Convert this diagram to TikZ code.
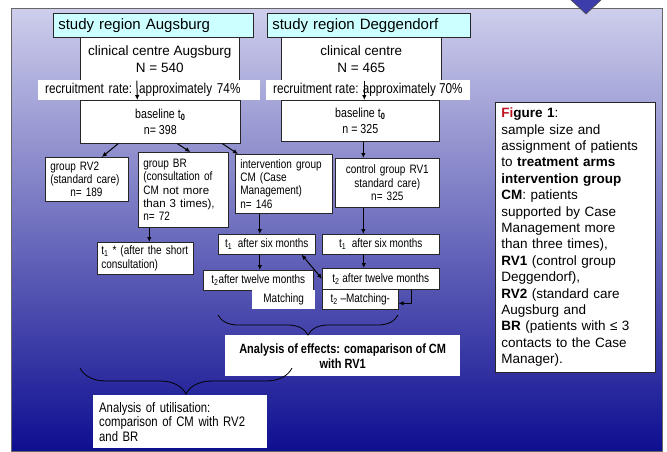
\documentclass[tikz,border=0pt]{standalone}
\usepackage{fontspec}
\setmainfont{Liberation Sans}
\newfontfamily\narrowfont[FakeStretch=0.82]{Liberation Sans}
\usepackage{xcolor}
\usepackage{tikz}
\usetikzlibrary{positioning,shapes,arrows.meta,calc,decorations.pathreplacing}
\definecolor{regioncyan}{RGB}{204, 255, 255}
\definecolor{bgtop}{RGB}{206, 206, 236}
\definecolor{bgmid}{RGB}{140, 140, 200}
\definecolor{bgbottom}{RGB}{14, 14, 145}
\definecolor{figred}{RGB}{190, 20, 30}
\definecolor{triblue}{RGB}{60, 60, 170}

\begin{document}
\begin{tikzpicture}[x=1pt, y=-1pt,
        box/.style={rectangle, draw=black!85, line width=0.6pt, fill=white, anchor=north west},
        regionbox/.style={box, fill=regioncyan, inner xsep=5pt, inner ysep=0pt, align=left, font=\fontsize{15}{17}\selectfont},
        centrebox/.style={box, align=center, font=\fontsize{13.5}{17}\selectfont},
        basebox/.style={box, align=center, font=\narrowfont\fontsize{13}{16}\selectfont},
        ratelabel/.style={rectangle, fill=white, anchor=north west, inner xsep=7pt, inner ysep=0pt, minimum height=20pt, font=\narrowfont\fontsize{14.3}{15}\selectfont},
        groupbox/.style={box, inner xsep=5pt, inner ysep=2pt, align=left, font=\narrowfont\fontsize{12.2}{13.4}\selectfont},
        timebox/.style={box, inner xsep=3pt, inner ysep=0pt, minimum height=20pt, font=\narrowfont\fontsize{12.2}{13}\selectfont},
        notebox/.style={rectangle, fill=white, anchor=north west, inner ysep=0pt},
        flowarrow/.style={-{Latex[length=5pt,width=4.5pt]}, line width=1pt},
        bracestyle/.style={decorate, decoration={brace, amplitude=#1}, line width=0.8pt}]
        \useasboundingbox (0,0) rectangle (667,451);

        % background panel and the marker at the top
        \shade[top color=bgtop, middle color=bgmid, bottom color=bgbottom] (11,8) rectangle (662,451);
        \draw[black!60, line width=0.8pt] (11,8) rectangle (662,451);
        \filldraw[fill=triblue, draw=black!70, line width=0.6pt] (570,-1) -- (602,-1) -- (586,14) -- cycle;

        % study regions
        \node[regionbox, text width=190pt, minimum height=24pt] (studyA) at (53,13) {study region Augsburg};
        \node[regionbox, text width=193pt, minimum height=24pt] (studyD) at (267,13) {study region Deggendorf};

        \node[centrebox, minimum width=159pt, minimum height=43pt] (clinA) at (80,37) {clinical centre Augsburg\\N = 540};
        \node[centrebox, minimum width=160pt, minimum height=43pt] (clinD) at (281,37) {clinical centre\\N = 465};

        \node[ratelabel, text width=208pt, align=left] (recA) at (38,80) {recruitment rate: approximately 74\%};
        \node[ratelabel] (recD) at (266,80) {recruitment rate: approximately 70\%};

        \node[basebox, minimum width=160pt, minimum height=43pt] (baseA) at (80,100) {baseline t\textsubscript{\textbf{0}}\\n= 398};
        \node[basebox, minimum width=158pt, minimum height=41pt] (baseD) at (281,100) {baseline t\textsubscript{\textbf{0}}\\n = 325};

        % groups
        \node[groupbox, text width=73pt, minimum height=44pt] (rv2) at (45,157) {group RV2\\(standard care)\\\hspace*{20pt}n= 189};
        \node[groupbox, text width=80pt, minimum height=75pt] (br) at (138,152) {group BR\\(consultation of\\CM {\rmfamily\fontsize{11.5}{13.4}\selectfont not more}\\{\rmfamily\fontsize{11.5}{13.4}\selectfont than 3 times)},\\n= 72};
        \node[groupbox, text width=87pt, minimum height=59pt] (cm) at (235,154) {intervention group\\CM (Case\\Management)\\n= 146};
        \node[groupbox, align=center, text width=94pt, minimum height=49pt] (rv1) at (335,158) {control group RV1\\standard care)\\n= 325};

        % follow-up
        \node[groupbox, inner xsep=4pt, text width=88pt, minimum height=32pt] (t1star) at (97,242) {t\textsubscript{1} * (after the short\\consultation)};
        \node[timebox, minimum width=97pt] (t1cm) at (218,234) {t\textsubscript{1}\ \ after six months};
        \node[timebox, minimum width=117pt] (t1rv1) at (322,234) {t\textsubscript{1}\ \ after six months};
        \node[timebox, minimum width=110pt] (t2cm) at (203,270) {t\textsubscript{2}after twelve months};
        \node[timebox, minimum width=117pt, minimum height=21pt] (t2rv1) at (322,268) {t\textsubscript{2} after twelve months};
        \node[notebox, minimum width=63pt, minimum height=19pt, font=\narrowfont\fontsize{12.2}{13}\selectfont] (match) at (252,290) {Matching};
        \node[timebox, minimum width=76pt] (t2match) at (322,289) {t\textsubscript{2} –Matching-};

        % analyses
        \node[notebox, minimum width=235pt, minimum height=41pt, align=center, font=\narrowfont\bfseries\fontsize{13.4}{15}\selectfont] (effects) at (225,335) {Analysis of effects: comaparison of CM\\with RV1};
        \node[notebox, inner xsep=6pt, text width=162pt, minimum height=53pt, align=left, font=\narrowfont\fontsize{13.8}{14.5}\selectfont] (utilisation) at (93,395) {Analysis of utilisation:\\comparison of CM with RV2\\and BR};

        % caption
        \node[box, text width=148pt, inner xsep=6pt, inner ysep=4pt, minimum height=270pt, align=left, font=\fontsize{13.5}{16.4}\selectfont] (caption) at (495,102) {\textbf{\color{figred}Fi}\textbf{gure 1}:\\sample size and\\assignment of patients\\to \textbf{treatment arms}\\\textbf{intervention group}\\\textbf{CM}: patients\\supported by Case\\Management more\\than three times),\\\textbf{RV1} (control group\\Deggendorf),\\\textbf{RV2} (standard care\\Augsburg and\\\textbf{BR} (patients with ≤ 3\\contacts to the Case\\Manager).};

        \draw[flowarrow] ([xshift=-23pt]clinA.south) -- ([xshift=-23pt]baseA.north);
        \draw[flowarrow] ([xshift=3pt]clinD.south) -- ([xshift=3pt]clinD.south |- baseD.north);
        \draw[flowarrow] ([xshift=-42pt]baseA.south) -- ([xshift=15pt]rv2.north);
        \draw[flowarrow] ([xshift=17pt]baseA.south) -- ([xshift=7pt]br.north);
        \draw[flowarrow] ([xshift=62pt]baseA.south) -- ([xshift=3pt]cm.north west);
        \draw[flowarrow] ([xshift=3pt]baseD.south) -- ([xshift=3pt]baseD.south |- rv1.north);
        \draw[flowarrow] ([xshift=-34pt]br.south) -- ([xshift=-34pt]br.south |- t1star.north);
        \draw[flowarrow] ([xshift=-24pt]cm.south) -- ([xshift=-24pt]cm.south |- t1cm.north);
        \draw[flowarrow] ([xshift=-24pt]rv1.south) -- ([xshift=-24pt]rv1.south |- t1rv1.north);
        \draw[flowarrow] ([xshift=-7pt]t1cm.south) -- ([xshift=-7pt]t1cm.south |- t2cm.north);
        \draw[flowarrow] ([xshift=-17pt]t1rv1.south) -- ([xshift=-17pt]t1rv1.south |- t2rv1.north);
        \draw[flowarrow, {Latex[length=5pt,width=4.5pt]}-{Latex[length=5pt,width=4.5pt]}] ([xshift=-14pt]t1cm.south east) -- (t2rv1.west);
        \draw[flowarrow] ([xshift=-28pt]t2rv1.south east) |- ([yshift=-4pt]t2match.east);

        \draw[bracestyle=20pt] (398,315) -- (218,315);
        \draw[bracestyle=26pt] (292,368) -- (80,368);
    \end{tikzpicture}
\end{document}
